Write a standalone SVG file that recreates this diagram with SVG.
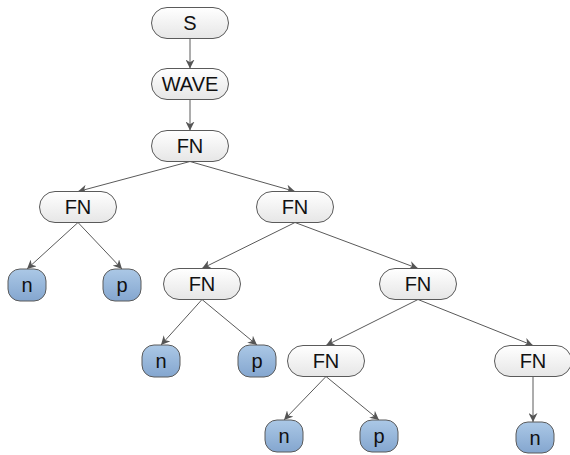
<svg xmlns="http://www.w3.org/2000/svg" width="570" height="455" viewBox="0 0 570 455">
<defs>
<linearGradient id="gw" x1="0" y1="0" x2="0" y2="1">
<stop offset="0" stop-color="#ffffff"/>
<stop offset="1" stop-color="#e6e6e6"/>
</linearGradient>
<linearGradient id="gb" x1="0" y1="0" x2="0" y2="1">
<stop offset="0" stop-color="#abc8e6"/>
<stop offset="1" stop-color="#84a6cf"/>
</linearGradient>
<marker id="ah" viewBox="0 0 10 10" refX="10" refY="5" markerWidth="9" markerHeight="9" markerUnits="userSpaceOnUse" orient="auto">
<path d="M0,0 L10,5 L0,10 L3,5 z" fill="#555"/>
</marker>
</defs>
<style>
.n rect{fill:url(#gw);stroke:#5a5a5a;stroke-width:1}
.l rect{fill:url(#gb);stroke:#5a5a5a;stroke-width:1}
text{font-family:"Liberation Sans",Arial,sans-serif;font-size:20px;fill:#111;text-anchor:middle;dominant-baseline:central}
#edges line{stroke:#5a5a5a;stroke-width:1;marker-end:url(#ah)}
</style>
<rect width="570" height="455" fill="#fff"/>
<g id="edges">
<line x1="190" y1="38.5" x2="190" y2="68.5"/>
<line x1="190" y1="99.5" x2="190" y2="130.5"/>
<line x1="190" y1="161.5" x2="78" y2="191.5"/>
<line x1="190" y1="161.5" x2="295" y2="191.5"/>
<line x1="78" y1="222.5" x2="27" y2="269"/>
<line x1="78" y1="222.5" x2="122" y2="269"/>
<line x1="295" y1="222.5" x2="202" y2="268.5"/>
<line x1="295" y1="222.5" x2="418" y2="268.5"/>
<line x1="202" y1="299.5" x2="161" y2="345"/>
<line x1="202" y1="299.5" x2="257" y2="345"/>
<line x1="418" y1="299.5" x2="326" y2="345.5"/>
<line x1="418" y1="299.5" x2="533" y2="345.5"/>
<line x1="326" y1="376.5" x2="284" y2="420"/>
<line x1="326" y1="376.5" x2="379" y2="420"/>
<line x1="533" y1="376.5" x2="533" y2="422"/>
</g>
<g id="S" class="n"><rect x="151.5" y="7.5" width="77" height="31" rx="15.5"/><text x="190" y="23">S</text></g>
<g id="WAVE" class="n"><rect x="151.5" y="68.5" width="77" height="31" rx="15.5"/><text x="190" y="84">WAVE</text></g>
<g id="FN0" class="n"><rect x="151.5" y="130.5" width="77" height="31" rx="15.5"/><text x="190" y="146">FN</text></g>
<g id="FN1" class="n"><rect x="39.5" y="191.5" width="77" height="31" rx="15.5"/><text x="78" y="207">FN</text></g>
<g id="FN2" class="n"><rect x="256.5" y="191.5" width="77" height="31" rx="15.5"/><text x="295" y="207">FN</text></g>
<g id="n1" class="l"><rect x="8" y="269" width="38" height="32" rx="12"/><text x="27" y="285">n</text></g>
<g id="p1" class="l"><rect x="103" y="269" width="38" height="32" rx="12"/><text x="122" y="285">p</text></g>
<g id="FN3" class="n"><rect x="163.5" y="268.5" width="77" height="31" rx="15.5"/><text x="202" y="284">FN</text></g>
<g id="FN4" class="n"><rect x="379.5" y="268.5" width="77" height="31" rx="15.5"/><text x="418" y="284">FN</text></g>
<g id="n2" class="l"><rect x="142" y="345" width="38" height="32" rx="12"/><text x="161" y="361">n</text></g>
<g id="p2" class="l"><rect x="238" y="345" width="38" height="32" rx="12"/><text x="257" y="361">p</text></g>
<g id="FN5" class="n"><rect x="287.5" y="345.5" width="77" height="31" rx="15.5"/><text x="326" y="361">FN</text></g>
<g id="FN6" class="n"><rect x="494.5" y="345.5" width="77" height="31" rx="15.5"/><text x="533" y="361">FN</text></g>
<g id="n3" class="l"><rect x="265" y="420" width="38" height="32" rx="12"/><text x="284" y="436">n</text></g>
<g id="p3" class="l"><rect x="360" y="420" width="38" height="32" rx="12"/><text x="379" y="436">p</text></g>
<g id="n4" class="l"><rect x="516" y="422" width="38" height="31" rx="12"/><text x="535" y="437.5">n</text></g>
</svg>
